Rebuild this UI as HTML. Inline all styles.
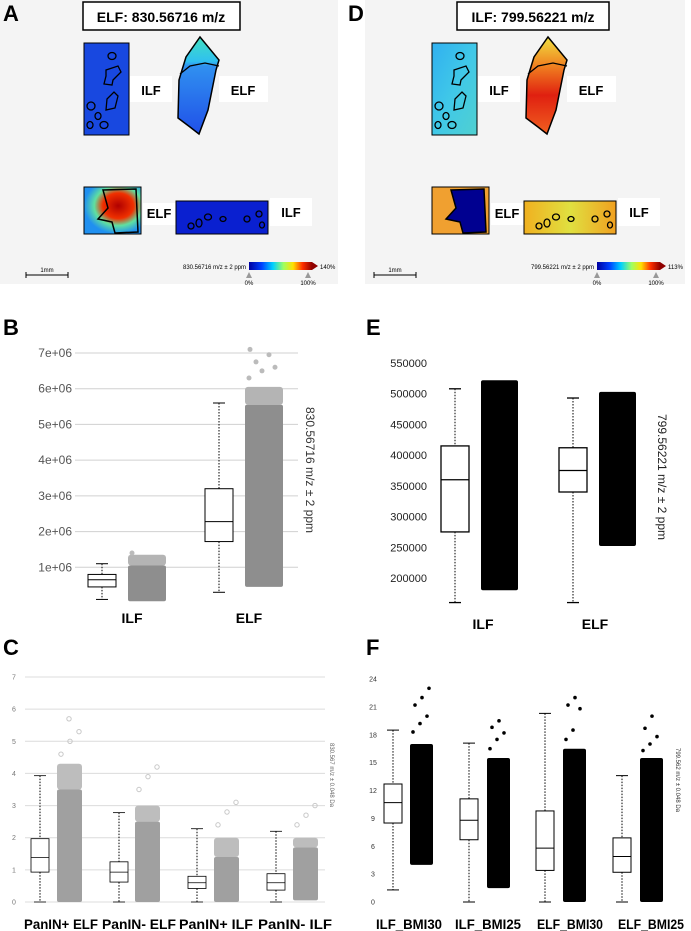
<!DOCTYPE html>
<html><head><meta charset="utf-8">
<style>
html,body{margin:0;padding:0;background:#fff;}
svg{display:block;font-family:"Liberation Sans",Arial,sans-serif;}
</style></head>
<body>
<svg id="fig" width="691" height="931" viewBox="0 0 691 931" xmlns="http://www.w3.org/2000/svg">
<defs>
<linearGradient id="jet" x1="0" x2="1" y1="0" y2="0">
<stop offset="0" stop-color="#0000a0"/><stop offset="0.2" stop-color="#0040ff"/><stop offset="0.38" stop-color="#00d0ff"/><stop offset="0.55" stop-color="#a0ff60"/><stop offset="0.7" stop-color="#ffe000"/><stop offset="0.85" stop-color="#ff3000"/><stop offset="1" stop-color="#900000"/></linearGradient>
<linearGradient id="aElf" x1="0" y1="0" x2="0" y2="1"><stop offset="0" stop-color="#40e0c0"/><stop offset="0.25" stop-color="#30c0f0"/><stop offset="0.3" stop-color="#3090f0"/><stop offset="1" stop-color="#2050e8"/></linearGradient>
<radialGradient id="aElf2" cx="0.6" cy="0.4" r="0.6"><stop offset="0" stop-color="#b00000"/><stop offset="0.45" stop-color="#f03000"/><stop offset="0.7" stop-color="#60e0a0"/><stop offset="1" stop-color="#2090f0"/></radialGradient>
<linearGradient id="dIlf" x1="0" y1="0" x2="1" y2="1"><stop offset="0" stop-color="#30b0f0"/><stop offset="0.5" stop-color="#40c8e8"/><stop offset="1" stop-color="#50d0d0"/></linearGradient>
<linearGradient id="dElf" x1="0" y1="0" x2="0" y2="1"><stop offset="0" stop-color="#f0e040"/><stop offset="0.3" stop-color="#f08020"/><stop offset="0.6" stop-color="#e02010"/><stop offset="1" stop-color="#f06020"/></linearGradient>
<linearGradient id="dBot" x1="0" y1="0" x2="1" y2="0"><stop offset="0" stop-color="#f0b020"/><stop offset="0.5" stop-color="#e0e040"/><stop offset="1" stop-color="#f0a020"/></linearGradient>
</defs>

<g>
<rect x="0" y="0" width="338" height="284" fill="#f4f4f4"/>
<text x="3" y="21" font-size="22" font-weight="bold">A</text>
<rect x="83" y="2" width="157" height="28" fill="#fff" stroke="#000" stroke-width="1.5"/>
<text x="161" y="22" font-size="14" font-weight="bold" text-anchor="middle">ELF: 830.56716 m/z</text>
<rect x="84" y="43" width="45" height="92" fill="#1848e0" stroke="#000"/>
<g fill="none" stroke="#000" stroke-width="1.3">
<ellipse cx="112" cy="56" rx="4" ry="3.5"/><path d="M106,70 L118,66 L121,72 L113,80 L112,85 L104,84 L106,76Z"/><path d="M107,99 L114,92 L118,96 L115,108 L106,110Z"/>
<ellipse cx="91" cy="106" rx="4" ry="4"/><ellipse cx="98" cy="116" rx="3" ry="3.5"/><ellipse cx="90" cy="125" rx="3" ry="3.5"/><ellipse cx="104" cy="125" rx="4" ry="3.5"/></g>
<path d="M200,37 L219,60 L216,70 L208,110 L199,134 L190,127 L178,118 L179,80 L182,70 L186,57Z" fill="url(#aElf)" stroke="#000" stroke-width="1.5"/>
<path d="M180,74 L190,66 L205,63 L219,66" fill="none" stroke="#000" stroke-width="1.3"/>
<rect x="130" y="76" width="42" height="26" fill="#fff"/><text x="151" y="95" font-size="13" font-weight="bold" text-anchor="middle">ILF</text>
<rect x="219" y="76" width="49" height="26" fill="#fff"/><text x="243" y="95" font-size="13" font-weight="bold" text-anchor="middle">ELF</text>
<rect x="84" y="187" width="57" height="47" fill="url(#aElf2)" stroke="#000"/>
<path d="M103,190 L136,189 L138,232 L115,233 L112,222 L98,219 L108,208Z" fill="none" stroke="#000" stroke-width="1.5"/>
<rect x="143" y="203" width="33" height="22" fill="#fff"/><text x="159" y="218" font-size="13" font-weight="bold" text-anchor="middle">ELF</text>
<rect x="176" y="201" width="92" height="33" fill="#0a20d0" stroke="#000"/>
<g fill="none" stroke="#000" stroke-width="1.3"><ellipse cx="191" cy="226" rx="3" ry="3"/><ellipse cx="199" cy="223" rx="3" ry="4"/><ellipse cx="208" cy="217" rx="3.5" ry="3"/><ellipse cx="223" cy="219" rx="3" ry="2.5"/><ellipse cx="247" cy="219" rx="3" ry="3"/><ellipse cx="259" cy="214" rx="3" ry="3"/><ellipse cx="262" cy="225" rx="2.5" ry="3"/></g>
<rect x="270" y="198" width="42" height="28" fill="#fff"/><text x="291" y="217" font-size="13" font-weight="bold" text-anchor="middle">ILF</text>
<line x1="26" y1="275" x2="68" y2="275" stroke="#000"/><line x1="26" y1="272" x2="26" y2="278" stroke="#000"/><line x1="68" y1="272" x2="68" y2="278" stroke="#000"/>
<text x="47" y="272" font-size="6" text-anchor="middle">1mm</text>
<rect x="249" y="262" width="63" height="8" fill="url(#jet)"/><path d="M312,262 L318,266 L312,270Z" fill="#900000"/>
<text x="246" y="269" font-size="6" text-anchor="end">830.56716 m/z ± 2 ppm</text><text x="320" y="269" font-size="6">140%</text>
<path d="M246,278 L249,272 L252,278Z M305,278 L308,272 L311,278Z" fill="#999"/>
<text x="249" y="285" font-size="6" text-anchor="middle">0%</text><text x="308" y="285" font-size="6" text-anchor="middle">100%</text>
</g>

<g>
<rect x="365" y="0" width="320" height="284" fill="#f4f4f4"/>
<text x="348" y="21" font-size="22" font-weight="bold">D</text>
<rect x="457" y="2" width="152" height="28" fill="#fff" stroke="#000" stroke-width="1.5"/>
<text x="533" y="22" font-size="14" font-weight="bold" text-anchor="middle">ILF: 799.56221 m/z</text>
<g transform="translate(348,0)">
<rect x="84" y="43" width="45" height="92" fill="url(#dIlf)" stroke="#000"/>
<g fill="none" stroke="#000" stroke-width="1.3">
<ellipse cx="112" cy="56" rx="4" ry="3.5"/><path d="M106,70 L118,66 L121,72 L113,80 L112,85 L104,84 L106,76Z"/><path d="M107,99 L114,92 L118,96 L115,108 L106,110Z"/>
<ellipse cx="91" cy="106" rx="4" ry="4"/><ellipse cx="98" cy="116" rx="3" ry="3.5"/><ellipse cx="90" cy="125" rx="3" ry="3.5"/><ellipse cx="104" cy="125" rx="4" ry="3.5"/></g>
<path d="M200,37 L219,60 L216,70 L208,110 L199,134 L190,127 L178,118 L179,80 L182,70 L186,57Z" fill="url(#dElf)" stroke="#000" stroke-width="1.5"/>
<path d="M180,74 L190,66 L205,63 L219,66" fill="none" stroke="#000" stroke-width="1.3"/>
<rect x="130" y="76" width="42" height="26" fill="#fff"/><text x="151" y="95" font-size="13" font-weight="bold" text-anchor="middle">ILF</text>
<rect x="219" y="76" width="49" height="26" fill="#fff"/><text x="243" y="95" font-size="13" font-weight="bold" text-anchor="middle">ELF</text>
<rect x="84" y="187" width="57" height="47" fill="#f0a030" stroke="#000"/>
<path d="M103,190 L136,189 L138,232 L115,233 L112,222 L98,219 L108,208Z" fill="#000090" stroke="#000" stroke-width="1.5"/>
<rect x="143" y="203" width="33" height="22" fill="#fff"/><text x="159" y="218" font-size="13" font-weight="bold" text-anchor="middle">ELF</text>
<rect x="176" y="201" width="92" height="33" fill="url(#dBot)" stroke="#000"/>
<g fill="none" stroke="#000" stroke-width="1.3"><ellipse cx="191" cy="226" rx="3" ry="3"/><ellipse cx="199" cy="223" rx="3" ry="4"/><ellipse cx="208" cy="217" rx="3.5" ry="3"/><ellipse cx="223" cy="219" rx="3" ry="2.5"/><ellipse cx="247" cy="219" rx="3" ry="3"/><ellipse cx="259" cy="214" rx="3" ry="3"/><ellipse cx="262" cy="225" rx="2.5" ry="3"/></g>
<rect x="270" y="198" width="42" height="28" fill="#fff"/><text x="291" y="217" font-size="13" font-weight="bold" text-anchor="middle">ILF</text>
<line x1="26" y1="275" x2="68" y2="275" stroke="#000"/><line x1="26" y1="272" x2="26" y2="278" stroke="#000"/><line x1="68" y1="272" x2="68" y2="278" stroke="#000"/>
<text x="47" y="272" font-size="6" text-anchor="middle">1mm</text>
<rect x="249" y="262" width="63" height="8" fill="url(#jet)"/><path d="M312,262 L318,266 L312,270Z" fill="#900000"/>
<text x="246" y="269" font-size="6" text-anchor="end">799.56221 m/z ± 2 ppm</text><text x="320" y="269" font-size="6">113%</text>
<path d="M246,278 L249,272 L252,278Z M305,278 L308,272 L311,278Z" fill="#999"/>
<text x="249" y="285" font-size="6" text-anchor="middle">0%</text><text x="308" y="285" font-size="6" text-anchor="middle">100%</text>
</g></g>

<text x="3" y="335" font-size="22" font-weight="bold">B</text>
<text x="366" y="335" font-size="22" font-weight="bold">E</text>
<text x="3" y="655" font-size="22" font-weight="bold">C</text>
<text x="366" y="655" font-size="22" font-weight="bold">F</text>
<g id="charts"></g>
</svg>
<script>
// ---- Panel B data ----
const bCats = ["ILF", "ELF"];
const bQ1 = [450000, 1720000];
const bMed = [650000, 2280000];
const bQ3 = [800000, 3200000];
const bWLo = [100000, 300000];
const bWHi = [1100000, 5600000];
const bScLo = [50000, 450000];
const bScDense = [1050000, 5550000];
const bScHi = [1350000, 6050000];
const bOutliers = [[1400000], [6300000, 6500000, 6600000, 6750000, 6950000, 7100000]];
const bTicks = [1000000, 2000000, 3000000, 4000000, 5000000, 6000000, 7000000];
const bTickLabels = ["1e+06", "2e+06", "3e+06", "4e+06", "5e+06", "6e+06", "7e+06"];
// ---- Panel C data ----
const cCats = ["PanIN+ ELF", "PanIN- ELF", "PanIN+ ILF", "PanIN- ILF"];
const cQ1 = [0.93, 0.62, 0.42, 0.37];
const cMed = [1.38, 0.93, 0.6, 0.6];
const cQ3 = [1.97, 1.25, 0.8, 0.88];
const cWLo = [0, 0, 0, 0];
const cWHi = [3.93, 2.78, 2.28, 2.2];
const cScLo = [0, 0, 0, 0.05];
const cScDense = [3.5, 2.5, 1.4, 1.7];
const cScHi = [4.3, 3.0, 2.0, 2.0];
const cOutliers = [[4.6, 5.0, 5.3, 5.7], [3.5, 3.9, 4.2], [2.4, 2.8, 3.1], [2.4, 2.7, 3.0]];
const cTicks = [0, 1, 2, 3, 4, 5, 6, 7];
// ---- Panel E data ----
const eCats = ["ILF", "ELF"];
const eQ1 = [275000, 340000];
const eMed = [360000, 375000];
const eQ3 = [415000, 412000];
const eWLo = [160000, 160000];
const eWHi = [508000, 493000];
const eScLo = [180000, 252000];
const eScHi = [522000, 503000];
const eTicks = [200000, 250000, 300000, 350000, 400000, 450000, 500000, 550000];
// ---- Panel F data ----
const fCats = ["ILF_BMI30", "ILF_BMI25", "ELF_BMI30", "ELF_BMI25"];
const fQ1 = [8.5, 6.7, 3.4, 3.2];
const fMed = [10.7, 8.8, 5.8, 4.9];
const fQ3 = [12.7, 11.1, 9.8, 6.9];
const fWLo = [1.3, 0, 0, 0];
const fWHi = [18.5, 17.1, 20.3, 13.6];
const fScLo = [4.0, 1.5, 0, 0];
const fScHi = [17.0, 15.5, 16.5, 15.5];
const fOutliers = [[18.3, 19.2, 20.0, 21.2, 22.0, 23.0], [16.5, 17.5, 18.2, 18.8, 19.5], [17.5, 18.5, 20.8, 21.2, 22.0], [16.3, 17.0, 17.8, 18.7, 20.0]];
const fTicks = [0, 3, 6, 9, 12, 15, 18, 21, 24];

const NS = "http://www.w3.org/2000/svg";
const root = document.getElementById("charts");
function mk(tag, attrs, parent) {
  const e = document.createElementNS(NS, tag);
  for (const k in attrs) e.setAttribute(k, attrs[k]);
  (parent || root).appendChild(e);
  return e;
}
function scale(d0, d1, r0, r1) { return v => r0 + (v - d0) * (r1 - r0) / (d1 - d0); }

function drawBox(g, cx, w, q1, med, q3, lo, hi, y, sw) {
  const wl = mk("line", {x1: cx, x2: cx, y1: y(hi), y2: y(q3), stroke: "#000", "stroke-width": 1, "stroke-dasharray": "1.5,1.5"}, g);
  
  
  const wl2 = mk("line", {x1: cx, x2: cx, y1: y(q1), y2: y(lo), stroke: "#000", "stroke-width": 1, "stroke-dasharray": "1.5,1.5"}, g);
  
  
  mk("line", {x1: cx - 6, x2: cx + 6, y1: y(hi), y2: y(hi), stroke: "#000", "stroke-width": sw}, g);
  mk("line", {x1: cx - 6, x2: cx + 6, y1: y(lo), y2: y(lo), stroke: "#000", "stroke-width": sw}, g);
  const b = mk("rect", {x: cx - w / 2, y: y(q3), width: w, height: y(q1) - y(q3), fill: "#fff", stroke: "#000", "stroke-width": sw}, g);
  
  
  const m = mk("line", {x1: cx - w / 2, x2: cx + w / 2, y1: y(med), y2: y(med), stroke: "#000", "stroke-width": sw}, g);
  
  
}

(function () {
  const g = mk("g", {});
  
  
  const y = scale(0, 7000000, 603, 353);
  bTicks.forEach((t, i) => {
    mk("line", {x1: 75, x2: 298, y1: y(t), y2: y(t), stroke: "#d0d0d0", "stroke-width": 1}, g);
    const tl = mk("text", {x: 72, y: y(t) + 4, "font-size": 12, fill: "#555", "text-anchor": "end"}, g);
    
    
    tl.textContent = bTickLabels[i];
  });
  const boxX = [102, 219], scX = [128, 245], scW = 38;
  bCats.forEach((c, i) => {
    const sc = mk("rect", {x: scX[i], y: y(bScHi[i]), width: scW, height: y(bScDense[i]) - y(bScHi[i]), fill: "#b4b4b4", rx: 3}, g);
    
    
    const sd = mk("rect", {x: scX[i], y: y(bScDense[i]), width: scW, height: y(bScLo[i]) - y(bScDense[i]), fill: "#8e8e8e", rx: 2}, g);
    
    
    bOutliers[i].forEach((v, j) => {
      const p = mk("circle", {cx: scX[i] + 4 + (j * 13) % (scW - 6), cy: y(v), r: 2.5, fill: "#bbb"}, g);
      
      
    });
    drawBox(g, boxX[i], 28, bQ1[i], bMed[i], bQ3[i], bWLo[i], bWHi[i], y, 1);
    const lab = mk("text", {x: (boxX[i] + scX[i] + scW) / 2 - 2, y: 623, "font-size": 14, "font-weight": "bold", "text-anchor": "middle"}, g);
    
    
    lab.textContent = c;
  });
  const t = mk("text", {transform: "translate(306,470) rotate(90)", "font-size": 12, fill: "#333", "text-anchor": "middle"}, g);
  
  
  t.textContent = "830.56716 m/z ± 2 ppm";
})();

(function () {
  const g = mk("g", {});
  
  
  const y = scale(0, 7, 902, 677);
  cTicks.forEach(t => {
    mk("line", {x1: 25, x2: 325, y1: y(t), y2: y(t), stroke: "#dcdcdc", "stroke-width": 1}, g);
    const tl = mk("text", {x: 14, y: y(t) + 2.5, "font-size": 7, fill: "#777", "text-anchor": "middle"}, g);
    
    
    tl.textContent = t;
  });
  const boxX = [40, 119, 197, 276], scX = [57, 135, 214, 293], scW = 25, labX = [61, 139, 216, 295];
  cCats.forEach((c, i) => {
    const sc = mk("rect", {x: scX[i], y: y(cScHi[i]), width: scW, height: y(cScDense[i]) - y(cScHi[i]), fill: "#bdbdbd", rx: 3}, g);
    
    
    const sd = mk("rect", {x: scX[i], y: y(cScDense[i]), width: scW, height: y(cScLo[i]) - y(cScDense[i]), fill: "#a0a0a0", rx: 2}, g);
    
    
    cOutliers[i].forEach((v, j) => {
      const p = mk("circle", {cx: scX[i] + 4 + (j * 9) % (scW - 6), cy: y(v), r: 2.2, fill: "none", stroke: "#c8c8c8"}, g);
      
      
    });
    drawBox(g, boxX[i], 18, cQ1[i], cMed[i], cQ3[i], cWLo[i], cWHi[i], y, 0.8);
    const lab = mk("text", {x: labX[i], y: 929, "font-size": 14, "font-weight": "bold", "text-anchor": "middle", textLength: 74, lengthAdjust: "spacingAndGlyphs"}, g);
    
    
    lab.textContent = c;
  });
  const t = mk("text", {transform: "translate(330,775) rotate(90)", "font-size": 6, fill: "#666", "text-anchor": "middle"}, g);
  
  
  t.textContent = "830.567 m/z ± 0.048 Da";
})();

(function () {
  const g = mk("g", {});
  
  
  const y = scale(200000, 550000, 578, 363);
  eTicks.forEach(t => {
    const tl = mk("text", {x: 427, y: y(t) + 4, "font-size": 11, fill: "#222", "text-anchor": "end"}, g);
    
    
    tl.textContent = t;
  });
  const boxX = [455, 573], scX = [481, 599], scW = 37, labX = [483, 595];
  eCats.forEach((c, i) => {
    const sd = mk("rect", {x: scX[i], y: y(eScHi[i]), width: scW, height: y(eScLo[i]) - y(eScHi[i]), fill: "#000", rx: 2}, g);
    
    
    drawBox(g, boxX[i], 28, eQ1[i], eMed[i], eQ3[i], eWLo[i], eWHi[i], y, 1.3);
    const lab = mk("text", {x: labX[i], y: 629, "font-size": 14, "font-weight": "bold", "text-anchor": "middle"}, g);
    
    
    lab.textContent = c;
  });
  const t = mk("text", {transform: "translate(658,477) rotate(90)", "font-size": 12, fill: "#222", "text-anchor": "middle"}, g);
  
  
  t.textContent = "799.56221 m/z ± 2 ppm";
})();

(function () {
  const g = mk("g", {});
  
  
  const y = scale(0, 24, 902, 679);
  fTicks.forEach(t => {
    const tl = mk("text", {x: 373, y: y(t) + 2.5, "font-size": 7, fill: "#333", "text-anchor": "middle"}, g);
    
    
    tl.textContent = t;
  });
  const boxX = [393, 469, 545, 622], scX = [410, 487, 563, 640], scW = 23, labX = [409, 488, 570, 651];
  fCats.forEach((c, i) => {
    const sd = mk("rect", {x: scX[i], y: y(fScHi[i]), width: scW, height: y(fScLo[i]) - y(fScHi[i]), fill: "#000", rx: 2}, g);
    
    
    fOutliers[i].forEach((v, j) => {
      const p = mk("circle", {cx: scX[i] + 3 + (j * 7) % (scW - 4), cy: y(v), r: 1.8, fill: "#000"}, g);
      
      
    });
    drawBox(g, boxX[i], 18, fQ1[i], fMed[i], fQ3[i], fWLo[i], fWHi[i], y, 1);
    const lab = mk("text", {x: labX[i], y: 929, "font-size": 14, "font-weight": "bold", "text-anchor": "middle", textLength: 66, lengthAdjust: "spacingAndGlyphs"}, g);
    
    
    lab.textContent = c;
  });
  const t = mk("text", {transform: "translate(676,780) rotate(90)", "font-size": 6, fill: "#333", "text-anchor": "middle"}, g);
  
  
  t.textContent = "799.562 m/z ± 0.048 Da";
})();
</script>
</body></html>
